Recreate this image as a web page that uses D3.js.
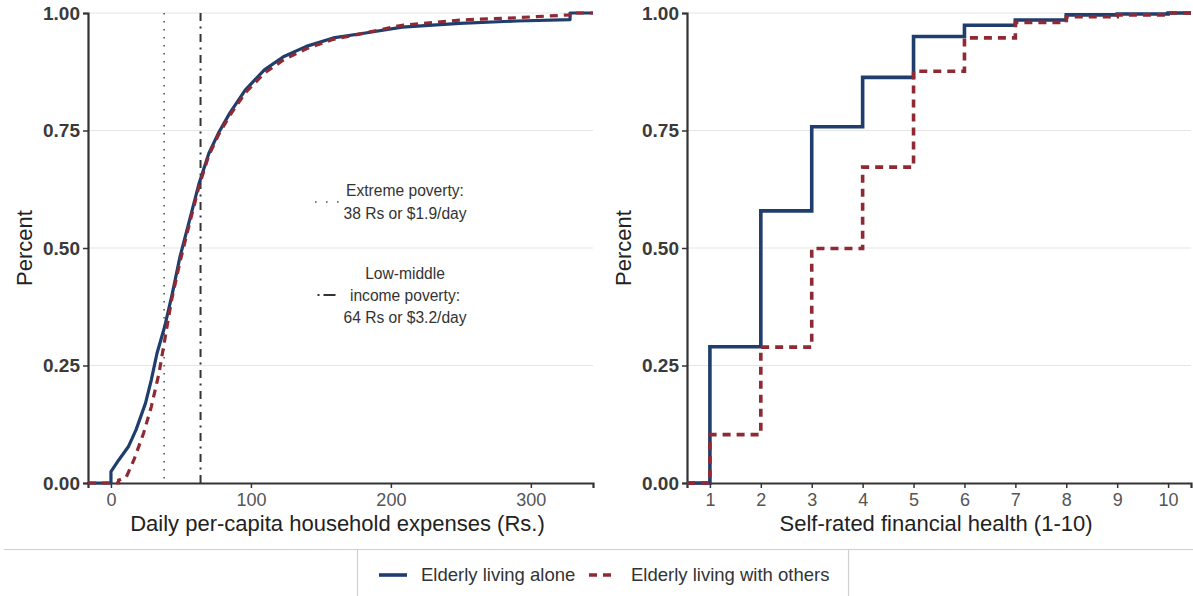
<!DOCTYPE html>
<html>
<head>
<meta charset="utf-8">
<script src="https://cdn.jsdelivr.net/npm/d3@7"></script>
<style>
  html, body { margin: 0; padding: 0; background: #fff; }
  svg { display: block; font-family: "Liberation Sans", Arial, Helvetica, sans-serif; }
</style>
</head>
<body>
<svg id="chart" width="1193" height="596"></svg>
<script>
// ---------------- DATA ----------------
// Left panel: ECDF of daily per-capita household expenses (Rs.)
const expAloneX  = [0, 0, 5.6, 12.4, 17.9, 24.7, 28.8, 32.9, 38.4, 43.9, 49.3, 56.2, 63, 69.9, 76.7, 84.9, 95.9, 109.6, 123.2, 139.6, 158.8, 180.7, 208, 249, 290, 328, 328];
const expAloneY  = [0, 0.024, 0.049, 0.077, 0.113, 0.17, 0.219, 0.276, 0.333, 0.404, 0.481, 0.56, 0.638, 0.701, 0.744, 0.787, 0.836, 0.879, 0.907, 0.929, 0.947, 0.957, 0.970, 0.978, 0.983, 0.986, 1];
const expOthersX = [5.5, 5.5, 11, 16.4, 23.3, 28.8, 34.3, 38.4, 43.3, 49.3, 56.2, 63, 69.9, 76.7, 84.9, 95.9, 109.6, 123.2, 139.6, 158.8, 180.7, 208, 249, 290, 328, 328];
const expOthersY = [0, 0.006, 0.013, 0.049, 0.106, 0.162, 0.233, 0.304, 0.389, 0.47, 0.553, 0.632, 0.697, 0.74, 0.782, 0.83, 0.872, 0.9, 0.924, 0.944, 0.957, 0.974, 0.985, 0.99, 0.996, 1];
const expTicks = [0, 100, 200, 300];
const povertyLines = [38, 64];

// Right panel: ECDF of self-rated financial health (1-10)
const healthLevels = [1, 2, 3, 4, 5, 6, 7, 8, 9, 10];
const healthAlone  = [0.29, 0.579, 0.758, 0.863, 0.95, 0.974, 0.985, 0.996, 0.998, 1];
const healthOthers = [0.103, 0.289, 0.499, 0.672, 0.876, 0.947, 0.980, 0.992, 0.996, 1];

const yTicks = [0, 0.25, 0.5, 0.75, 1];
const seriesNames = ["Elderly living alone", "Elderly living with others"];
const seriesColors = ["#1f3d6d", "#8f2a35"];

// ---------------- LAYOUT ----------------
const svg = d3.select("#chart");
svg.append("rect").attr("width", 1193).attr("height", 596).attr("fill", "#fff");

const pTop = 13, pBottom = 483;
const L = { x0: 88, x1: 593 };
const R = { x0: 687, x1: 1191 };

const yL = d3.scaleLinear().domain([0, 1]).range([pBottom, pTop]);

const expMax = d3.max(expAloneX.concat(expOthersX));
const expMin = d3.min(expAloneX.concat(expOthersX));
const expPad = (expMax - expMin) * 0.05;
const xL = d3.scaleLinear().domain([expMin - expPad, expMax + expPad]).range([L.x0, L.x1]);
const hPad = (d3.max(healthLevels) - d3.min(healthLevels)) * 0.05;
const xR = d3.scaleLinear().domain([d3.min(healthLevels) - hPad, d3.max(healthLevels) + hPad]).range([R.x0, R.x1]);

function drawPanel(x, panel, ticks, title, ytitleX) {
  const g = svg.append("g");
  // grid
  g.selectAll("line.grid").data(yTicks.filter(d => d > 0)).enter().append("line")
    .attr("x1", panel.x0).attr("x2", panel.x1)
    .attr("y1", d => yL(d)).attr("y2", d => yL(d))
    .attr("stroke", "#e6e6e6").attr("stroke-width", 1.2);
  // y axis
  const ya = g.append("g").attr("transform", `translate(${panel.x0},0)`)
    .call(d3.axisLeft(yL).tickValues(yTicks).tickFormat(d3.format(".2f")).tickSize(5).tickPadding(3));
  ya.select(".domain").attr("stroke", "#333").attr("stroke-width", 2.2);
  ya.selectAll(".tick line").attr("stroke", "#333").attr("stroke-width", 1.5);
  ya.selectAll(".tick text").attr("font-size", 19).attr("font-weight", "bold")
    .attr("fill", "#3a3a3a").attr("font-family", "Liberation Sans, Arial, sans-serif");
  // x axis
  const xa = g.append("g").attr("transform", `translate(0,${pBottom})`)
    .call(d3.axisBottom(x).tickValues(ticks).tickFormat(d3.format("d")).tickSize(5).tickPadding(5));
  xa.select(".domain").attr("stroke", "#333").attr("stroke-width", 2.2);
  xa.selectAll(".tick line").attr("stroke", "#333").attr("stroke-width", 1.5);
  xa.selectAll(".tick text").attr("font-size", 18).attr("fill", "#555")
    .attr("font-family", "Liberation Sans, Arial, sans-serif");
  // titles
  g.append("text").attr("x", (panel.x0 + panel.x1) / 2 - 3).attr("y", 531)
    .attr("text-anchor", "middle").attr("font-size", 22).attr("fill", "#222").text(title);
  g.append("text").attr("transform", `translate(${ytitleX},${(pTop + pBottom) / 2}) rotate(-90)`)
    .attr("text-anchor", "middle").attr("font-size", 22).attr("fill", "#222").text("Percent");
  return g;
}

const gL = drawPanel(xL, L, expTicks, "Daily per-capita household expenses (Rs.)", 32);
const gR = drawPanel(xR, R, healthLevels, "Self-rated financial health (1-10)", 631);

// poverty lines
gL.append("line").attr("x1", xL(povertyLines[0])).attr("x2", xL(povertyLines[0]))
  .attr("y1", pTop).attr("y2", pBottom).attr("stroke", "#555").attr("stroke-width", 1.6)
  .attr("stroke-dasharray", "1.6,6.4");
gL.append("line").attr("x1", xL(povertyLines[1])).attr("x2", xL(povertyLines[1]))
  .attr("y1", pTop).attr("y2", pBottom).attr("stroke", "#333").attr("stroke-width", 2)
  .attr("stroke-dasharray", "8,5.5,2,5.5");

// left ECDF lines (padded to panel edges like stat_ecdf)
const [xLmin, xLmax] = xL.domain();
function padPts(xs, ys) {
  const pts = xs.map((v, i) => [v, ys[i]]);
  return [[xLmin, 0]].concat(pts, [[xLmax, 1]]);
}
const lineL = d3.line().x(d => xL(d[0])).y(d => yL(d[1]));
gL.append("path").datum(padPts(expAloneX, expAloneY)).attr("d", lineL)
  .attr("fill", "none").attr("stroke", seriesColors[0]).attr("stroke-width", 3.2)
  .attr("stroke-linejoin", "round");
gL.append("path").datum(padPts(expOthersX, expOthersY)).attr("d", lineL)
  .attr("fill", "none").attr("stroke", seriesColors[1]).attr("stroke-width", 3.2)
  .attr("stroke-dasharray", "8,6");

// annotations (linetype legend inside left panel)
const annColor = "#333";
const ann = gL.append("g").attr("font-size", 15.6).attr("fill", annColor).attr("text-anchor", "middle");
ann.append("text").attr("x", 405).attr("y", 196).text("Extreme poverty:");
ann.append("text").attr("x", 405).attr("y", 218.5).text("38 Rs or $1.9/day");
ann.append("text").attr("x", 405).attr("y", 278.5).text("Low-middle");
ann.append("text").attr("x", 405).attr("y", 300.5).text("income poverty:");
ann.append("text").attr("x", 405).attr("y", 322.5).text("64 Rs or $3.2/day");
gL.append("line").attr("x1", 315).attr("x2", 341).attr("y1", 202).attr("y2", 202)
  .attr("stroke", "#555").attr("stroke-width", 1.6).attr("stroke-dasharray", "1.6,9.4");
gL.append("line").attr("x1", 317.5).attr("x2", 336).attr("y1", 295).attr("y2", 295)
  .attr("stroke", "#333").attr("stroke-width", 2).attr("stroke-dasharray", "2,4,12,4");

// right ECDF step lines
const [xRmin, xRmax] = xR.domain();
function stepPts(vals) {
  return [[xRmin, 0]].concat(healthLevels.map((h, i) => [h, vals[i]]), [[xRmax, 1]]);
}
const lineR = d3.line().x(d => xR(d[0])).y(d => yL(d[1])).curve(d3.curveStepAfter);
gR.append("path").datum(stepPts(healthAlone)).attr("d", lineR)
  .attr("fill", "none").attr("stroke", seriesColors[0]).attr("stroke-width", 3.6);
gR.append("path").datum(stepPts(healthOthers)).attr("d", lineR)
  .attr("fill", "none").attr("stroke", seriesColors[1]).attr("stroke-width", 3.6)
  .attr("stroke-dasharray", "8,6");

// legend frame
const lg = svg.append("g");
lg.append("line").attr("x1", 4).attr("x2", 1193).attr("y1", 549.5).attr("y2", 549.5)
  .attr("stroke", "#cfcfcf").attr("stroke-width", 1.2);
lg.append("line").attr("x1", 357.5).attr("x2", 357.5).attr("y1", 549.5).attr("y2", 596)
  .attr("stroke", "#cfcfcf").attr("stroke-width", 1.2);
lg.append("line").attr("x1", 848.5).attr("x2", 848.5).attr("y1", 549.5).attr("y2", 596)
  .attr("stroke", "#cfcfcf").attr("stroke-width", 1.2);

const legendItems = [
  { name: seriesNames[0], color: seriesColors[0], dash: null, x: 379 },
  { name: seriesNames[1], color: seriesColors[1], dash: "8,6", x: 589 }
];
legendItems.forEach(it => {
  lg.append("line").attr("x1", it.x).attr("x2", it.x + 28).attr("y1", 575).attr("y2", 575)
    .attr("stroke", it.color).attr("stroke-width", 3.6)
    .attr("stroke-dasharray", it.dash);
  lg.append("text").attr("x", it.x + 42).attr("y", 581).attr("font-size", 18.5)
    .attr("fill", "#333").text(it.name);
});
</script>
</body>
</html>
